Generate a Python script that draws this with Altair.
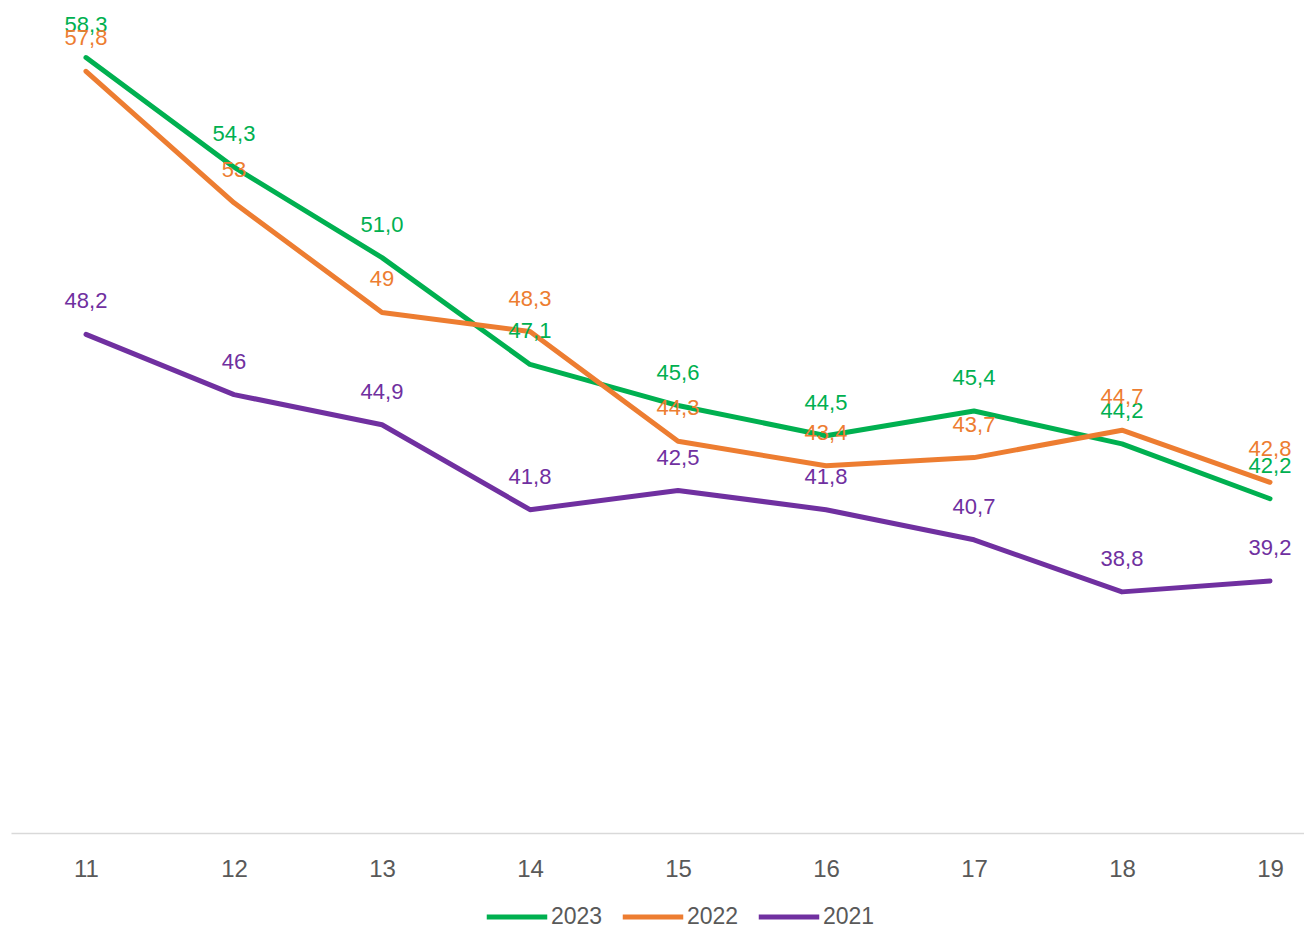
import altair as alt
import pandas as pd

FONT = "Liberation Sans"

weeks = [11, 12, 13, 14, 15, 16, 17, 18, 19]
series_names = ["2023", "2022", "2021"]
colors = ["#00B050", "#ED7D31", "#7030A0"]

v2023 = [58.3, 54.3, 51.0, 47.1, 45.6, 44.5, 45.4, 44.2, 42.2]
v2022 = [57.8, 53.0, 49.0, 48.3, 44.3, 43.4, 43.7, 44.7, 42.8]
v2021 = [48.2, 46.0, 44.9, 41.8, 42.5, 41.8, 40.7, 38.8, 39.2]

l2023 = ["58,3", "54,3", "51,0", "47,1", "45,6", "44,5", "45,4", "44,2", "42,2"]
l2022 = ["57,8", "53", "49", "48,3", "44,3", "43,4", "43,7", "44,7", "42,8"]
l2021 = ["48,2", "46", "44,9", "41,8", "42,5", "41,8", "40,7", "38,8", "39,2"]

rows = []
for name, vals, labs in zip(series_names, [v2023, v2022, v2021], [l2023, l2022, l2021]):
    for w, v, l in zip(weeks, vals, labs):
        rows.append({"week": w, "series": name, "value": v, "label": l})
df = pd.DataFrame(rows)

color = alt.Color(
    "series:N",
    sort=series_names,
    scale=alt.Scale(domain=series_names, range=colors),
    legend=alt.Legend(
        title=None,
        orient="none",
        legendX=492,
        legendY=892,
        direction="horizontal",
        symbolType="M-2.7,0H2.7",
        symbolSize=502,
        symbolStrokeWidth=5,
        labelFontSize=23,
        labelColor="#595959",
        labelFont=FONT,
        labelOffset=20,
        columnPadding=9,
        padding=0,
    ),
)

x = alt.X(
    "week:Q",
    scale=alt.Scale(domain=[10.4932, 19.2297], nice=False, zero=False),
    axis=alt.Axis(
        values=weeks,
        format="d",
        title=None,
        ticks=False,
        tickSize=0,
        grid=False,
        domainColor="#d9d9d9",
        domainWidth=1.5,
        labelFontSize=24,
        labelColor="#595959",
        labelFont=FONT,
        labelPadding=36,
        labelBaseline="middle",
        labelFlush=False,
        labelOverlap=False,
    ),
)
y = alt.Y("value:Q", scale=alt.Scale(domain=[30, 60], nice=False, zero=False), axis=None)

base = alt.Chart(df)
lines = base.mark_line(strokeWidth=5, strokeCap="round", strokeJoin="round").encode(
    x=x, y=y, color=color, detail="series:N"
)
labels = base.mark_text(fontSize=22, dy=-33, font=FONT, baseline="middle", align="center").encode(
    x=x, y=y, text="label:N", color=color
)

chart = (
    alt.layer(lines, labels)
    .properties(
        width=1293,
        height=822,
        padding={"left": 3, "top": 3, "right": 0, "bottom": 95},
        autosize=alt.AutoSizeParams(type="none"),
        background="white",
    )
    .configure_view(stroke=None)
)

chart.save("out.html", embed_options={"renderer": "svg", "actions": False})
